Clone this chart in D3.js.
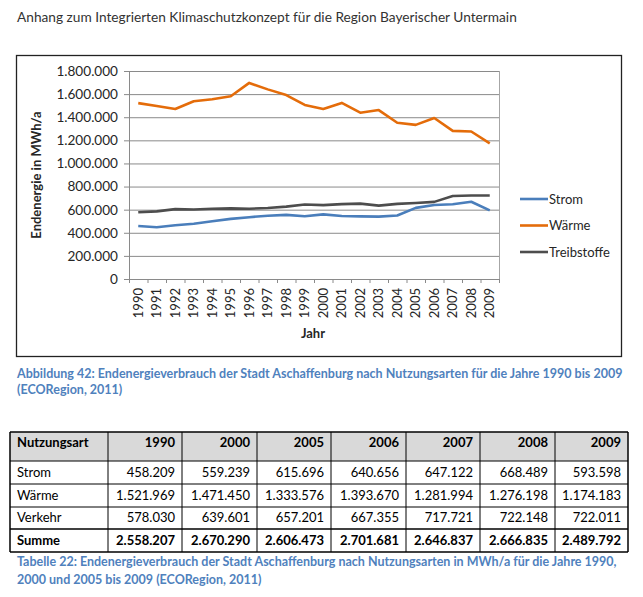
<!DOCTYPE html>
<html>
<head>
<meta charset="utf-8">
<script src="https://cdn.jsdelivr.net/npm/d3@7"></script>
<style>
  body { margin: 0; background: #fff; }
  svg { display: block; font-family: Lato, "Open Sans", sans-serif; }
</style>
</head>
<body>
<svg id="chart" width="643" height="597"></svg>
<script>
// Werte (Tabellenjahre exakt)
let years = d3.range(1990, 2010).map(String);
let strom = [458209, 448000, 465000, 478000, 500000, 520000, 535000, 548000, 555000, 543000,
             559239, 545000, 542000, 540000, 550000, 615696, 640656, 647122, 668489, 593598];
let waerme = [1521969, 1497000, 1471000, 1538000, 1556000, 1581000, 1697000, 1641000, 1592000, 1506000,
              1471450, 1524000, 1439000, 1462000, 1352000, 1333576, 1393670, 1281994, 1276198, 1174183];
let treibstoffe = [578030, 585000, 605000, 602000, 608000, 611000, 608000, 615000, 626000, 645000,
                   639601, 648000, 652000, 635000, 650000, 657201, 667355, 717721, 722148, 722011];
let seriesNames = ['Strom', 'Wärme', 'Treibstoffe'];
let seriesColors = ['#4a7ebb', '#e46c0a', '#4d4d4d'];
let yTicks = d3.range(0, 1800001, 200000);

// Tabelle
let tableYears = ['1990', '2000', '2005', '2006', '2007', '2008', '2009'];
let tableNames = ['Strom', 'Wärme', 'Verkehr', 'Summe'];
let tStrom = [458209, 559239, 615696, 640656, 647122, 668489, 593598];
let tWaerme = [1521969, 1471450, 1333576, 1393670, 1281994, 1276198, 1174183];
let tVerkehr = [578030, 639601, 657201, 667355, 717721, 722148, 722011];
let tSumme = [2558207, 2670290, 2606473, 2701681, 2646837, 2666835, 2489792];

let de = d3.formatLocale({decimal: ',', thousands: '.', grouping: [3], currency: ['', ' €']});
let fmt = de.format(',d');

let svg = d3.select('#chart');
let textColor = '#262626';
let captionColor = '#4f81bd';

// Kopfzeile
svg.append('text')
    .attr('x', 17).attr('y', 22)
    .attr('font-size', 13.7)
    .attr('fill', '#333')
    .text('Anhang zum Integrierten Klimaschutzkonzept für die Region Bayerischer Untermain');

// Rahmen um das Diagramm
svg.append('rect')
    .attr('x', 16.5).attr('y', 55.5)
    .attr('width', 605).attr('height', 301)
    .attr('fill', 'none').attr('stroke', '#222').attr('stroke-width', 1.3);

let plot = {left: 129, right: 499, top: 71, bottom: 279};

let x = d3.scaleBand().domain(years).range([plot.left, plot.right]);
let y = d3.scaleLinear().domain([0, 1800000]).range([plot.bottom, plot.top]);

// Gitternetz
svg.append('g')
    .selectAll('line')
    .data(yTicks)
    .join('line')
    .attr('x1', plot.left).attr('x2', plot.right)
    .attr('y1', d => y(d) + 0.5).attr('y2', d => y(d) + 0.5)
    .attr('stroke', '#8a8a8a').attr('stroke-width', 1);

// Rand rechts
svg.append('line')
    .attr('x1', plot.right + 0.5).attr('x2', plot.right + 0.5)
    .attr('y1', plot.top).attr('y2', plot.bottom)
    .attr('stroke', '#a6a6a6');

// y-Achse
let yAxis = svg.append('g')
    .attr('transform', `translate(${plot.left},0)`)
    .call(d3.axisLeft(y).tickValues(yTicks).tickFormat(fmt).tickSize(5).tickPadding(6));
yAxis.select('.domain').attr('stroke', '#8a8a8a');
yAxis.selectAll('.tick line').attr('stroke', '#8a8a8a');
yAxis.selectAll('text').attr('font-size', 13.6).attr('fill', textColor).attr('font-family', 'Lato');

// x-Achse
let xAxis = svg.append('g')
    .attr('transform', `translate(0,${plot.bottom})`)
    .call(d3.axisBottom(x).tickSize(0).tickPadding(0));
xAxis.select('.domain').attr('stroke', '#8a8a8a');
xAxis.selectAll('.tick text')
    .attr('font-size', 13).attr('fill', textColor).attr('font-family', 'Lato')
    .attr('transform', 'rotate(-90)')
    .attr('text-anchor', 'end')
    .attr('dy', '0.35em')
    .attr('x', -9).attr('y', 0);
// Teilstriche zwischen den Kategorien
svg.append('g')
    .selectAll('line')
    .data(years.concat(['end']))
    .join('line')
    .attr('x1', (d, i) => plot.left + i * x.step() + 0.5)
    .attr('x2', (d, i) => plot.left + i * x.step() + 0.5)
    .attr('y1', plot.bottom).attr('y2', plot.bottom + 4)
    .attr('stroke', '#8a8a8a');

// Achsentitel
svg.append('text')
    .attr('transform', 'translate(41,175) rotate(-90)')
    .attr('text-anchor', 'middle')
    .attr('font-size', 13).attr('font-weight', 'bold').attr('fill', textColor)
    .text('Endenergie in MWh/a');
svg.append('text')
    .attr('x', 313).attr('y', 338)
    .attr('text-anchor', 'middle')
    .attr('font-size', 13).attr('font-weight', 'bold').attr('fill', textColor)
    .text('Jahr');

// Linien
let allSeries = [strom, waerme, treibstoffe];
let line = d3.line()
    .x((d, i) => x(years[i]) + x.bandwidth() / 2)
    .y(d => y(d));

svg.append('g')
    .selectAll('path')
    .data(allSeries)
    .join('path')
    .attr('d', d => line(d))
    .attr('fill', 'none')
    .attr('stroke', (d, i) => seriesColors[i])
    .attr('stroke-width', 2.6)
    .attr('stroke-linejoin', 'round');

// Legende
let legend = svg.append('g')
    .selectAll('g')
    .data(seriesNames)
    .join('g')
    .attr('transform', (d, i) => `translate(520,${199 + i * 26.5})`);
legend.append('line')
    .attr('x1', 0).attr('x2', 28)
    .attr('stroke', (d, i) => seriesColors[i]).attr('stroke-width', 2.6);
legend.append('text')
    .attr('x', 29).attr('dy', '0.35em')
    .attr('font-size', 13).attr('fill', textColor)
    .text(d => d);

// Bildunterschrift
let cap1 = svg.append('text')
    .attr('font-size', 12.5).attr('font-weight', 'bold').attr('fill', captionColor);
cap1.append('tspan').attr('x', 17).attr('y', 378)
    .text('Abbildung 42: Endenergieverbrauch der Stadt Aschaffenburg nach Nutzungsarten für die Jahre 1990 bis 2009');
cap1.append('tspan').attr('x', 17).attr('y', 394)
    .text('(ECORegion, 2011)');

// Tabelle
let colEdges = [10, 108, 182, 257, 331, 406, 480, 555, 628];
let rowEdges = [432, 461, 484, 507, 529, 552];
let tableValues = [tStrom, tWaerme, tVerkehr, tSumme];
let table = svg.append('g');

table.append('rect')
    .attr('x', colEdges[0]).attr('y', rowEdges[0])
    .attr('width', colEdges[8] - colEdges[0]).attr('height', rowEdges[1] - rowEdges[0])
    .attr('fill', '#d9d9d9');

table.selectAll('line.v')
    .data(colEdges)
    .join('line')
    .attr('class', 'v')
    .attr('x1', d => d).attr('x2', d => d)
    .attr('y1', rowEdges[0]).attr('y2', rowEdges[5])
    .attr('stroke', '#000').attr('stroke-width', (d, i) => (i === 0 || i === 8) ? 1.5 : 1);

table.selectAll('line.h')
    .data(rowEdges)
    .join('line')
    .attr('class', 'h')
    .attr('x1', colEdges[0]).attr('x2', colEdges[8])
    .attr('y1', d => d).attr('y2', d => d)
    .attr('stroke', '#000').attr('stroke-width', (d, i) => (i === 0 || i === 4 || i === 5) ? 1.6 : 1);

let headY = 447;
table.append('text')
    .attr('x', colEdges[0] + 7).attr('y', headY)
    .attr('font-size', 13).attr('font-weight', 'bold').attr('fill', '#000')
    .text('Nutzungsart');
table.selectAll('text.yr')
    .data(tableYears)
    .join('text')
    .attr('class', 'yr')
    .attr('x', (d, i) => colEdges[i + 2] - 7).attr('y', headY)
    .attr('text-anchor', 'end')
    .attr('font-size', 13).attr('font-weight', 'bold').attr('fill', '#000')
    .text(d => d);

let rowY = [477, 500, 522, 545];
tableNames.forEach((name, r) => {
    let bold = r === 3 ? 'bold' : 'normal';
    table.append('text')
        .attr('x', colEdges[0] + 7).attr('y', rowY[r])
        .attr('font-size', 13).attr('font-weight', bold).attr('fill', '#000')
        .text(name);
    table.append('g')
        .selectAll('text')
        .data(tableValues[r])
        .join('text')
        .attr('x', (d, i) => colEdges[i + 2] - 7).attr('y', rowY[r])
        .attr('text-anchor', 'end')
        .attr('font-size', 13).attr('font-weight', bold).attr('fill', '#000')
        .text(d => fmt(d));
});

let cap2 = svg.append('text')
    .attr('font-size', 12.5).attr('font-weight', 'bold').attr('fill', captionColor);
cap2.append('tspan').attr('x', 17).attr('y', 566)
    .text('Tabelle 22: Endenergieverbrauch der Stadt Aschaffenburg nach Nutzungsarten in MWh/a für die Jahre 1990,');
cap2.append('tspan').attr('x', 17).attr('y', 584)
    .text('2000 und 2005 bis 2009 (ECORegion, 2011)');
</script>
</body>
</html>
